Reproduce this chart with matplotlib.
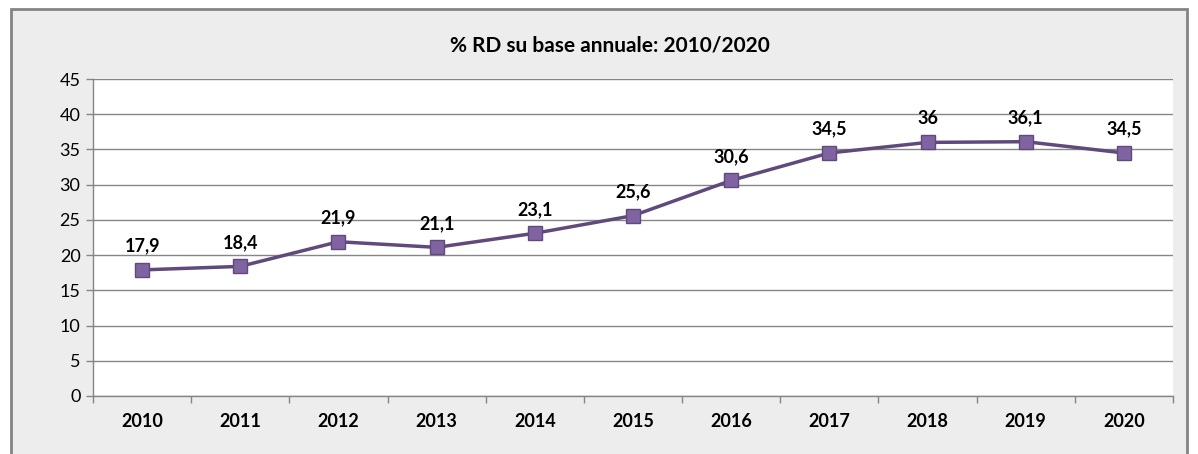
import matplotlib
matplotlib.use("Agg")
import matplotlib.pyplot as plt
from matplotlib.patches import Rectangle
from matplotlib.ticker import FixedLocator, MultipleLocator

years = ["2010", "2011", "2012", "2013", "2014", "2015", "2016", "2017", "2018", "2019", "2020"]
values = [17.9, 18.4, 21.9, 21.1, 23.1, 25.6, 30.6, 34.5, 36.0, 36.1, 34.5]
labels = ["17,9", "18,4", "21,9", "21,1", "23,1", "25,6", "30,6", "34,5", "36", "36,1", "34,5"]
title = "% RD su base annuale: 2010/2020"

plt.rcParams['font.family'] = ['Lato', 'DejaVu Sans']

fig = plt.figure(figsize=(11.98, 4.54), dpi=100)
fig.patch.set_facecolor('white')
W, H = 1198, 454
frame = Rectangle((11 / W, -0.02), (1187 - 11) / W, (454 - 9) / H + 0.02, transform=fig.transFigure,
                  facecolor='#ededed', edgecolor='#848484', linewidth=2, zorder=-10)
fig.patches.append(frame)

ax = fig.add_axes([93 / W, 1 - 396 / H, (1173 - 93) / W, (396 - 79) / H])
ax.set_zorder(1)
ax.set_facecolor('white')
x = list(range(len(years)))
ax.plot(x, values, color='#604a7b', linewidth=2.5, marker='s', markersize=10,
        markerfacecolor='#8064a2', markeredgecolor='#604a7b', markeredgewidth=1, zorder=3)
for xi, v, lab in zip(x, values, labels):
    ax.annotate(lab, (xi, v), xytext=(0, 11), textcoords='offset points',
                ha='center', va='bottom', fontsize=13, fontweight='bold', color='black',
                annotation_clip=False)

ax.set_xlim(-0.5, len(years) - 0.5)
ax.set_ylim(0, 45)
ax.yaxis.set_major_locator(MultipleLocator(5))
ax.set_xticks(x)
ax.set_xticklabels(years, fontsize=13, fontweight='bold')
ax.xaxis.set_minor_locator(FixedLocator([i - 0.5 for i in range(len(years) + 1)]))
ax.tick_params(axis='x', which='major', length=0, pad=12)
ax.tick_params(axis='x', which='minor', length=5, color='#868686', width=1)
ax.tick_params(axis='y', length=5, color='#868686', width=1, labelsize=13, pad=4)
ax.grid(axis='y', color='#868686', linewidth=1)
ax.set_axisbelow(True)
for s in ['top', 'right']:
    ax.spines[s].set_visible(False)
for s in ['left', 'bottom']:
    ax.spines[s].set_color('#868686')
    ax.spines[s].set_linewidth(1)

fig.text(610 / W, 1 - 45 / H, title, ha='center', va='center', fontsize=15, fontweight='bold')

fig.savefig('out.png', dpi=100, facecolor=fig.get_facecolor())
